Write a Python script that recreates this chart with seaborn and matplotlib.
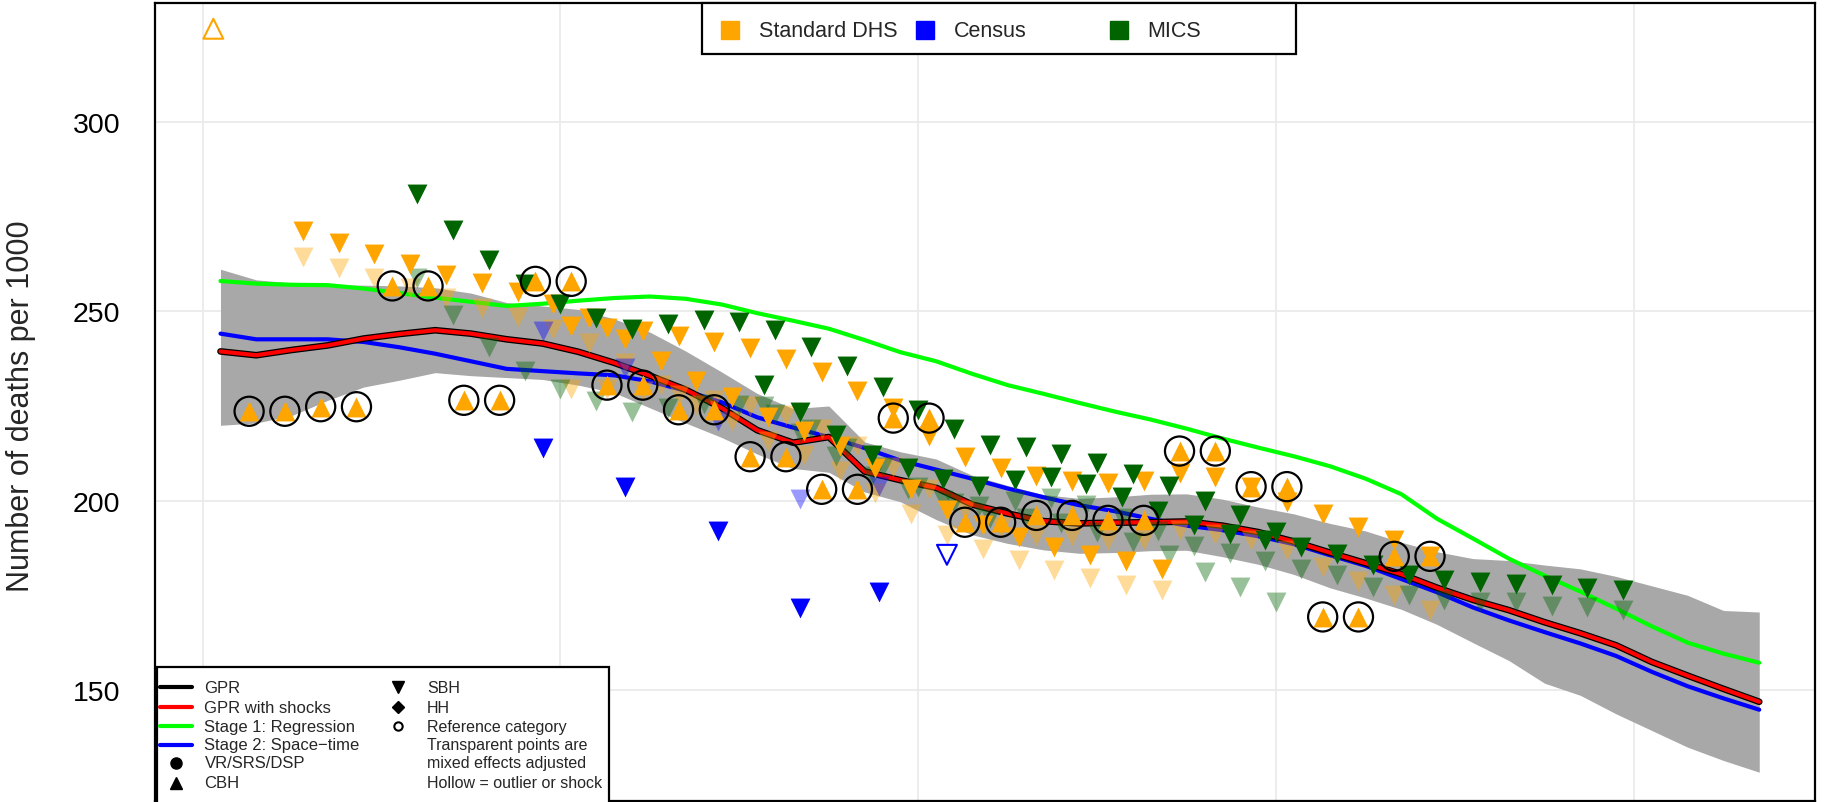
import matplotlib
matplotlib.use("Agg")
import numpy as np
import pandas as pd
import matplotlib.pyplot as plt
import seaborn as sns
from matplotlib.lines import Line2D
from matplotlib.patches import Rectangle

# ── estimates (one value per year, mid-year) ──────────────────────────────────
est_years = np.arange(1970.5, 2014.0, 1.0)

gpr_shock = [239.4, 238.4, 239.8, 241.0, 242.8, 244.0, 245.0, 244.1, 242.6, 241.5,
             239.3, 236.4, 233.0, 229.3, 224.5, 218.6, 215.3, 216.8, 207.7, 205.4,
             203.4, 199.0, 196.6, 194.6, 194.0, 194.2, 194.3, 194.5, 193.4, 191.7,
             189.2, 186.3, 183.5, 180.6, 177.0, 173.8, 171.1, 167.9, 165.0, 161.8,
             157.4, 153.8, 150.3, 146.9]
gpr = [239.4, 238.4, 239.8, 241.0, 242.8, 244.0, 245.0, 244.1, 242.6, 241.5,
       239.3, 236.4, 233.0, 229.3, 224.5, 218.6, 215.3, 216.8, 207.7, 205.4,
       203.4, 199.0, 196.6, 194.6, 194.0, 194.2, 194.3, 194.5, 193.4, 191.7,
       189.2, 186.3, 183.5, 180.6, 177.0, 173.8, 171.1, 167.9, 165.0, 161.8,
       157.4, 153.8, 150.3, 146.9]
stage1 = [258.0, 257.3, 257.0, 256.9, 256.0, 254.8, 253.6, 252.5, 251.4, 252.0,
          252.8, 253.5, 253.9, 253.3, 251.8, 249.5, 247.5, 245.4, 242.4, 239.2,
          236.8, 233.5, 230.5, 228.2, 225.8, 223.5, 221.4, 219.0, 216.4, 214.0,
          211.7, 209.1, 205.8, 201.7, 195.2, 190.0, 184.7, 180.2, 176.0, 171.5,
          166.8, 162.5, 159.6, 157.2]
stage2 = [244.1, 242.6, 242.6, 242.6, 241.9, 240.5, 238.8, 236.8, 234.8, 234.2,
          233.6, 233.1, 231.5, 229.0, 226.0, 222.0, 219.3, 216.8, 213.9, 210.6,
          208.2, 205.8, 203.2, 200.9, 198.8, 197.2, 195.2, 193.4, 192.2, 190.6,
          188.5, 185.6, 182.8, 179.3, 175.8, 171.8, 168.4, 165.3, 162.3, 159.0,
          154.8, 151.0, 147.8, 144.8]
band_hi = [261.1, 258.3, 257.5, 257.0, 256.9, 256.7, 256.2, 254.8, 252.3, 251.4,
           250.5, 248.0, 244.5, 239.5, 234.0, 228.3, 224.3, 225.0, 215.5, 212.9,
           211.0, 206.7, 204.0, 201.6, 200.6, 201.0, 201.7, 201.8, 200.4, 198.3,
           196.5, 194.0, 192.0, 189.0, 186.5, 184.7, 184.2, 183.0, 182.0, 180.0,
           177.5, 175.0, 171.0, 170.6]
band_lo = [219.9, 220.5, 222.5, 226.5, 230.0, 231.8, 233.8, 233.0, 232.5, 232.0,
           230.5, 228.5, 224.5, 220.5, 216.7, 212.3, 208.5, 207.5, 202.3, 199.7,
           195.0, 191.0, 188.7, 187.0, 186.1, 186.3, 186.8, 186.9, 185.2, 183.2,
           180.5, 177.0, 174.3, 171.3, 167.3, 162.5, 157.8, 151.8, 148.6, 143.7,
           139.3, 134.9, 131.4, 128.3]

# ── data points ───────────────────────────────────────────────────────────────
# Standard DHS complete birth histories (reference category, circled)
cbh_years = np.arange(1971.3, 2004.4, 1.0)
cbh_vals = [223.6, 223.6, 224.8, 224.8, 256.7, 256.7, 226.5, 226.5, 257.9, 257.9,
            230.5, 230.5, 224.0, 224.0, 211.6, 211.6, 203.0, 203.0, 221.8, 221.8,
            194.3, 194.3, 196.1, 196.1, 194.8, 194.8, 213.1, 213.1, 203.7, 203.7,
            169.3, 169.3, 185.3, 185.3]
cbh_outlier_year = [1970.3]
cbh_outlier_val = [324.6]

# Standard DHS summary birth histories, two sets
dhs_a_years = np.arange(1972.8, 1996.9, 1.0)
dhs_a_raw = [271.1, 267.9, 265.0, 262.4, 259.5, 257.4, 255.1, 251.8, 248.1, 242.8,
             237.0, 231.7, 227.5, 222.2, 218.5, 214.3, 208.5, 203.0, 197.5, 193.5,
             190.4, 187.8, 185.6, 184.0, 182.0]
dhs_a_adj = [264.4, 261.5, 258.7, 256.2, 253.5, 250.8, 248.5, 245.3, 241.6, 236.3,
             230.5, 225.2, 221.0, 215.7, 212.0, 207.8, 202.0, 196.5, 191.0, 187.3,
             184.4, 181.8, 179.6, 177.8, 176.5]
dhs_b_years = np.arange(1980.3, 2004.4, 1.0)
dhs_b_raw = [246.0, 245.7, 244.9, 243.6, 242.0, 240.2, 237.5, 234.1, 229.0, 224.5,
             217.2, 211.5, 208.5, 206.5, 205.2, 204.6, 205.2, 207.3, 206.2, 203.7,
             199.6, 196.5, 193.0, 189.5, 185.5]
dhs_b_adj = [229.5, 229.5, 229.0, 228.0, 226.5, 225.0, 222.5, 219.0, 214.5, 209.0,
             203.0, 197.5, 193.0, 190.8, 190.8, 189.5, 189.5, 192.2, 191.3, 189.5,
             186.9, 182.5, 178.9, 175.0, 171.0]

# Census summary birth histories
census_years = [1979.5, 1981.8, 1984.4, 1986.7, 1988.9]
census_raw = [214.0, 203.7, 192.0, 171.6, 176.0]
census_adj = [244.9, 234.9, 221.0, 200.5, 204.0]
census_outlier_year = [1990.8]
census_outlier_val = [185.7]

# MICS summary birth histories, two sets
mics_a_years = np.arange(1976.0, 2000.1, 1.0)
mics_a_raw = [281.1, 271.4, 263.5, 257.1, 252.0, 248.1, 245.4, 246.7, 247.6, 247.2,
              245.0, 240.6, 235.6, 230.0, 223.9, 219.0, 214.6, 214.2, 212.4, 209.9,
              207.1, 204.0, 199.8, 196.1, 191.7]
mics_a_adj = [258.7, 249.0, 240.6, 234.2, 229.4, 226.3, 223.4, 224.5, 225.5, 225.3,
              223.0, 219.0, 214.0, 209.0, 203.5, 199.5, 195.5, 195.5, 194.0, 191.8,
              189.0, 185.6, 181.1, 177.3, 173.2]
mics_b_years = np.arange(1985.7, 2009.8, 1.0)
mics_b_raw = [230.5, 223.4, 217.3, 212.0, 208.5, 205.8, 204.0, 205.4, 206.2, 204.3,
              201.0, 197.4, 193.5, 191.3, 189.5, 187.8, 186.0, 182.9, 180.3, 179.0,
              178.5, 178.1, 177.6, 176.9, 176.3]
mics_b_adj = [225.0, 217.9, 211.8, 206.5, 203.0, 200.3, 198.5, 199.9, 200.7, 198.8,
              195.5, 191.9, 188.0, 186.2, 184.0, 182.0, 180.3, 177.2, 175.0, 173.7,
              173.2, 173.2, 172.3, 171.9, 171.0]

ORANGE = "#FFA500"
BLUE = "#0000FF"
GREEN = "#006400"

sns.set_theme(style="white")
plt.rcParams["font.family"] = ["Liberation Sans", "DejaVu Sans"]

fig = plt.figure(figsize=(18.47, 8.03), dpi=100)
ax = fig.add_axes([0.08392, 0.00125, 0.8988, 0.99377])

# uncertainty band
ax.fill_between(est_years, band_lo, band_hi, color="#A8A8A8", lw=0, zorder=1)

# estimate lines
sns.lineplot(x=est_years, y=stage1, color="#00FF00", lw=3.0, ax=ax, zorder=3)
sns.lineplot(x=est_years, y=stage2, color=BLUE, lw=3.0, ax=ax, zorder=3)
sns.lineplot(x=est_years, y=gpr, color="black", lw=4.8, ax=ax, zorder=3)
sns.lineplot(x=est_years, y=gpr_shock, color="red", lw=3.0, ax=ax, zorder=3)

TRI = 205


def pts(years, vals, color, marker, alpha=1.0, z=4):
    df = pd.DataFrame({"year": years, "value": vals})
    sns.scatterplot(data=df, x="year", y="value", color=color, marker=marker,
                    s=TRI, alpha=alpha, linewidth=0, ax=ax, zorder=z)


# adjusted (transparent) points
pts(dhs_a_years, dhs_a_adj, ORANGE, "v", 0.4)
pts(dhs_b_years, dhs_b_adj, ORANGE, "v", 0.4)
pts(mics_a_years, mics_a_adj, GREEN, "v", 0.4)
pts(mics_b_years, mics_b_adj, GREEN, "v", 0.4)
pts(census_years, census_adj, BLUE, "v", 0.4)

# raw points
pts(dhs_a_years, dhs_a_raw, ORANGE, "v")
pts(dhs_b_years, dhs_b_raw, ORANGE, "v")
pts(mics_a_years, mics_a_raw, GREEN, "v")
pts(mics_b_years, mics_b_raw, GREEN, "v")
pts(census_years, census_raw, BLUE, "v")
pts(cbh_years, cbh_vals, ORANGE, "^", z=5)

# reference category rings
ax.scatter(cbh_years, cbh_vals, s=440, facecolors="none", edgecolors="black",
           linewidths=1.6, zorder=6)

# outliers (hollow)
ax.scatter(cbh_outlier_year, cbh_outlier_val, marker="^", s=TRI, facecolors="none",
           edgecolors=ORANGE, linewidths=1.5, zorder=6)
ax.scatter(census_outlier_year, census_outlier_val, marker="v", s=TRI, facecolors="none",
           edgecolors=BLUE, linewidths=1.5, zorder=6)

# axes styling
ax.set_xlim(1968.67, 2015.06)
ax.set_ylim(120.7, 331.4)
ax.set_xticks([1970, 1980, 1990, 2000, 2010])
ax.set_yticks([150, 200, 250, 300])
ax.grid(True, color="#EBEBEB", lw=1.3, zorder=0)
ax.set_axisbelow(True)
ax.tick_params(axis="x", length=0, labelbottom=False)
ax.tick_params(axis="y", length=0, pad=25, labelsize=20.5, labelcolor="black")
ax.set_xlabel("")
ax.set_ylabel("")
for sp in ax.spines.values():
    sp.set_color("black")
    sp.set_linewidth(1.6)

fig.text(0.0114, 0.494, "Number of deaths per 1000", rotation=90,
         ha="center", va="center", fontsize=22)

# ── top legend (data source) ──────────────────────────────────────────────────
fig.add_artist(Rectangle((0.380, 0.9315), 0.3215, 0.0635, transform=fig.transFigure,
                         facecolor="white", edgecolor="black", lw=1.6, zorder=10))
for sx, tx, col, lab in [(0.3952, 0.4110, ORANGE, "Standard DHS"),
                         (0.5008, 0.5162, BLUE, "Census"),
                         (0.6058, 0.6213, GREEN, "MICS")]:
    fig.add_artist(Line2D([sx], [0.961], marker="s", markersize=12.5, color=col, lw=0,
                          transform=fig.transFigure, zorder=11))
    fig.text(tx, 0.961, lab, ha="left", va="center", fontsize=15.5, zorder=11)

# ── bottom legend (lines and markers) ─────────────────────────────────────────
fig.add_artist(Rectangle((0.0850, -0.01), 0.2447, 0.1781, transform=fig.transFigure,
                         facecolor="white", edgecolor="black", lw=1.6, zorder=10))
rows = [0.1432, 0.1183, 0.0946, 0.0710, 0.0486, 0.0237]
left_items = [("line", "black", "GPR"), ("line", "red", "GPR with shocks"),
              ("line", "#00FF00", "Stage 1: Regression"), ("line", BLUE, "Stage 2: Space\u2212time"),
              ("o", "black", "VR/SRS/DSP"), ("^", "black", "CBH")]
for yy, (kind, col, lab) in zip(rows, left_items):
    if kind == "line":
        fig.add_artist(Line2D([0.0866, 0.1040], [yy, yy], color=col, lw=3.0,
                              transform=fig.transFigure, zorder=11))
    else:
        fig.add_artist(Line2D([0.0953], [yy], marker=kind, markersize=8, color=col, lw=0,
                              transform=fig.transFigure, zorder=11))
    fig.text(0.1107, yy, lab, ha="left", va="center", fontsize=12, zorder=11)

right_items = [("v", "SBH"), ("D", "HH"), ("o_hollow", "Reference category"),
               (None, "Transparent points are"), (None, "mixed effects adjusted"),
               (None, "Hollow = outlier or shock")]
for yy, (mk, lab) in zip(rows, right_items):
    if mk == "o_hollow":
        fig.add_artist(Line2D([0.2155], [yy], marker="o", markersize=6, markerfacecolor="none",
                              markeredgecolor="black", markeredgewidth=1.5, lw=0,
                              transform=fig.transFigure, zorder=11))
    elif mk is not None:
        fig.add_artist(Line2D([0.2155], [yy], marker=mk, markersize=8 if mk == "v" else 6.5,
                              color="black", lw=0, transform=fig.transFigure, zorder=11))
    fig.text(0.2312, yy, lab, ha="left", va="center", fontsize=11.5, zorder=11)

fig.savefig("out.png", dpi=100)
